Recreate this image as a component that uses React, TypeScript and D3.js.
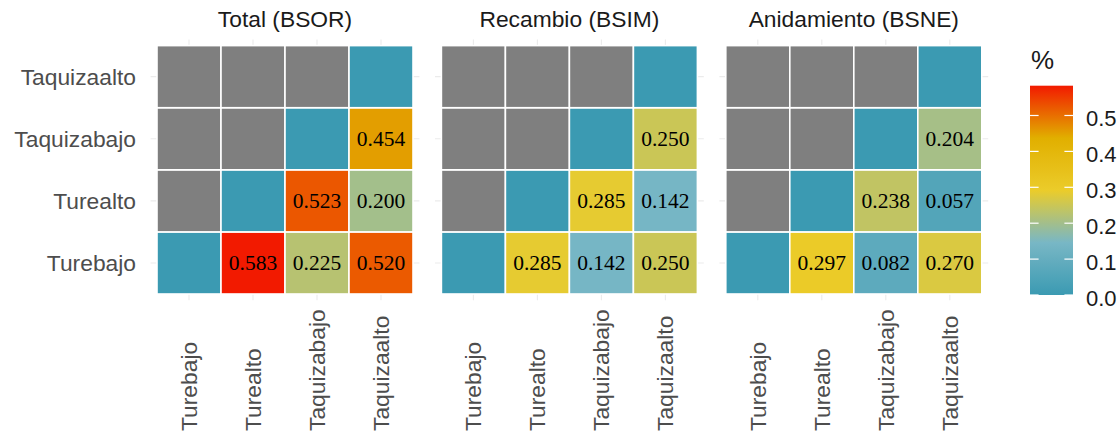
import React from "react";
import * as d3 from "d3";

// Sites, in axis order (x left→right, y bottom→top)
const sites = ["Turebajo", "Turealto", "Taquizabajo", "Taquizaalto"];

// Facet titles
const panelTitles = ["Total (BSOR)", "Recambio (BSIM)", "Anidamiento (BSNE)"];

// Dissimilarity matrices: rows = y site, columns = x site (null = no pair)
const totalBSOR: (number | null)[][] = [
  [0, 0.583, 0.225, 0.52],
  [null, 0, 0.523, 0.2],
  [null, null, 0, 0.454],
  [null, null, null, 0],
];
const recambioBSIM: (number | null)[][] = [
  [0, 0.285, 0.142, 0.25],
  [null, 0, 0.285, 0.142],
  [null, null, 0, 0.25],
  [null, null, null, 0],
];
const anidamientoBSNE: (number | null)[][] = [
  [0, 0.297, 0.082, 0.27],
  [null, 0, 0.238, 0.057],
  [null, null, 0, 0.204],
  [null, null, null, 0],
];

const matrices = [totalBSOR, recambioBSIM, anidamientoBSNE];

// Legend breaks
const legendTicks = [0, 0.1, 0.2, 0.3, 0.4, 0.5];

// Zissou1 palette
const palette = ["#3B9AB2", "#78B7C5", "#EBCC2A", "#E1AF00", "#F21A00"];

const W = 1120;
const H = 437;

export default function App() {
  const allVals = matrices.flat(2).filter((v): v is number => v != null);
  const vmax = d3.max(allVals) as number;

  const color = d3
    .scaleLinear<string>()
    .domain(palette.map((_, i) => (vmax * i) / (palette.length - 1)))
    .range(palette)
    .interpolate(d3.interpolateRgb);

  const panelW = 268.8;
  const panelStep = 284.4;
  const panelX0 = 150.6;
  const panelTop = 39.4;
  const panelBottom = 300.2;

  const y = d3
    .scaleBand<string>()
    .domain([...sites].reverse())
    .range([panelTop, panelBottom])
    .paddingInner(0)
    .paddingOuter(0.1);

  const sans = "'Liberation Sans', Arial, sans-serif";
  const serif = "'Liberation Serif', 'Times New Roman', serif";
  const axisFont = 22.8;

  // Legend geometry
  const legX = 1030;
  const legW = 43;
  const legTop = 85.7;
  const legBottom = 295;
  const legScale = d3.scaleLinear().domain([0, vmax]).range([legBottom, legTop]);
  const gradStops = d3.range(0, 1.0001, 0.05);

  return (
    <div style={{ position: "absolute", left: 0, top: 0 }}>
      <svg width={W} height={H} style={{ display: "block", background: "#fff" }}>
        <defs>
          <linearGradient id="legGrad" x1="0" y1="1" x2="0" y2="0">
            {gradStops.map((t) => (
              <stop key={t} offset={`${t * 100}%`} stopColor={color(t * vmax)} />
            ))}
          </linearGradient>
        </defs>

        {matrices.map((mat, p) => {
          const x0 = panelX0 + p * panelStep;
          const x = d3
            .scaleBand<string>()
            .domain(sites)
            .range([x0, x0 + panelW])
            .paddingInner(0)
            .paddingOuter(0.1);
          const bw = x.bandwidth();
          const bh = y.bandwidth();
          return (
            <g key={p}>
              {/* grid lines */}
              {sites.map((s) => (
                <line
                  key={"gx" + s}
                  x1={(x(s) as number) + bw / 2}
                  x2={(x(s) as number) + bw / 2}
                  y1={panelTop}
                  y2={panelBottom}
                  stroke="#EBEBEB"
                  strokeWidth={1.1}
                />
              ))}
              {sites.map((s) => (
                <line
                  key={"gy" + s}
                  x1={x0}
                  x2={x0 + panelW}
                  y1={(y(s) as number) + bh / 2}
                  y2={(y(s) as number) + bh / 2}
                  stroke="#EBEBEB"
                  strokeWidth={1.1}
                />
              ))}
              {/* tiles */}
              {mat.map((row, ri) =>
                row.map((v, ci) => (
                  <rect
                    key={`t${ri}-${ci}`}
                    x={x(sites[ci]) as number}
                    y={y(sites[ri]) as number}
                    width={bw}
                    height={bh}
                    fill={v == null ? "#7F7F7F" : color(v)}
                    stroke="#fff"
                    strokeWidth={1.6}
                  />
                ))
              )}
              {/* values */}
              {mat.map((row, ri) =>
                row.map((v, ci) =>
                  v != null && v > 0 ? (
                    <text
                      key={`v${ri}-${ci}`}
                      x={(x(sites[ci]) as number) + bw / 2}
                      y={(y(sites[ri]) as number) + bh / 2}
                      dy="0.35em"
                      textAnchor="middle"
                      fontFamily={serif}
                      fontSize={21.5}
                      fill="#000"
                    >
                      {v.toFixed(3)}
                    </text>
                  ) : null
                )
              )}
              {/* facet title */}
              <text
                x={x0 + panelW / 2}
                y={27}
                textAnchor="middle"
                fontFamily={sans}
                fontSize={axisFont}
                fill="#1A1A1A"
              >
                {panelTitles[p]}
              </text>
              {/* x axis labels */}
              {sites.map((s) => {
                const cx = (x(s) as number) + bw / 2;
                return (
                  <text
                    key={"xl" + s}
                    transform={`translate(${cx},431) rotate(-90)`}
                    dy="0.35em"
                    textAnchor="start"
                    fontFamily={sans}
                    fontSize={axisFont}
                    fill="#4D4D4D"
                  >
                    {s}
                  </text>
                );
              })}
            </g>
          );
        })}

        {/* y axis labels */}
        {sites.map((s) => (
          <text
            key={"yl" + s}
            x={136}
            y={(y(s) as number) + y.bandwidth() / 2}
            dy="0.35em"
            textAnchor="end"
            fontFamily={sans}
            fontSize={axisFont}
            fill="#4D4D4D"
          >
            {s}
          </text>
        ))}

        {/* legend */}
        <text x={1031} y={69} fontFamily={sans} fontSize={26} fill="#1A1A1A">
          %
        </text>
        <rect x={legX} y={legTop} width={legW} height={legBottom - legTop} fill="url(#legGrad)" />
        {legendTicks.map((t) => (
          <g key={"lt" + t}>
            <line
              x1={legX}
              x2={legX + legW / 5}
              y1={legScale(t)}
              y2={legScale(t)}
              stroke="#fff"
              strokeWidth={1.2}
            />
            <line
              x1={legX + legW - legW / 5}
              x2={legX + legW}
              y1={legScale(t)}
              y2={legScale(t)}
              stroke="#fff"
              strokeWidth={1.2}
            />
            <text
              x={1086}
              y={legScale(t) + 3}
              dy="0.35em"
              fontFamily={sans}
              fontSize={22}
              fill="#1A1A1A"
            >
              {t.toFixed(1)}
            </text>
          </g>
        ))}
      </svg>
    </div>
  );
}
